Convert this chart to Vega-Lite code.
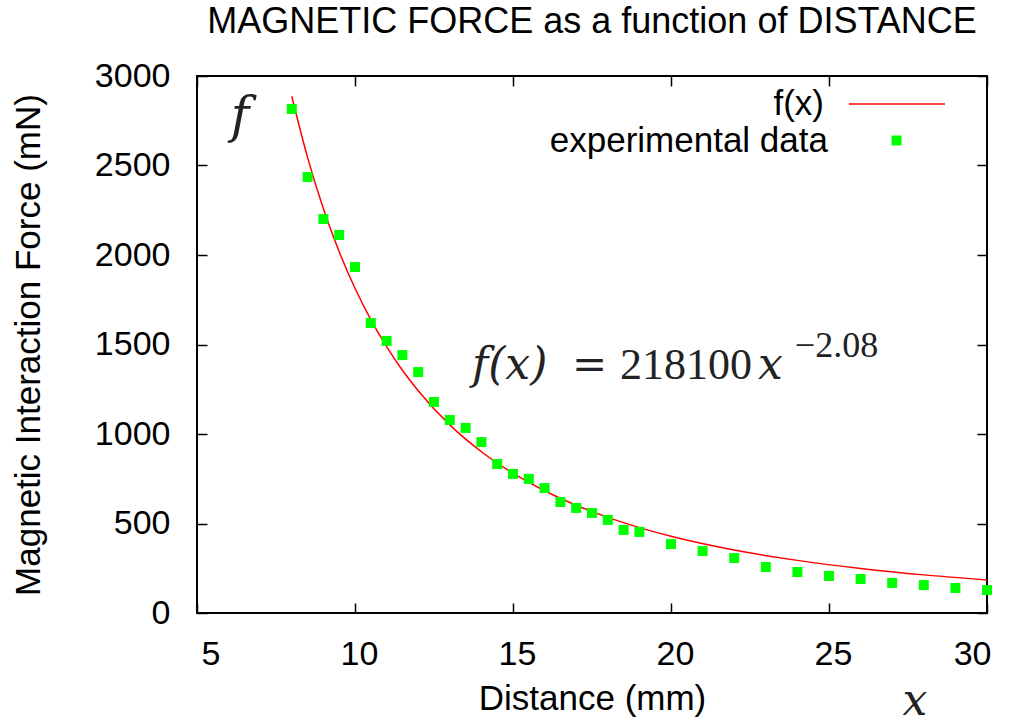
{
  "$schema": "https://vega.github.io/schema/vega-lite/v6.json",
  "width": 790,
  "height": 537,
  "autosize": {"type": "none"},
  "padding": {"left": 197, "top": 76, "right": 31, "bottom": 111},
  "background": "white",
  "config": {
    "view": {"stroke": "black", "strokeWidth": 2},
    "font": "Liberation Sans",
    "axis": {"grid": false, "domain": false, "tickColor": "black", "tickWidth": 1.5, "labelColor": "black", "titleColor": "black", "labelFont": "Liberation Sans", "titleFont": "Liberation Sans", "titleFontWeight": "normal"},
    "legend": {"labelFont": "Liberation Sans", "labelColor": "black", "labelFontSize": 35, "labelLimit": 500, "padding": 0}
  },
  "datasets": {
    "curve": [
      {"distance": 8, "force": 2886},
      {"distance": 8.5, "force": 2544},
      {"distance": 9, "force": 2259},
      {"distance": 9.5, "force": 2018},
      {"distance": 10, "force": 1814},
      {"distance": 10.5, "force": 1639},
      {"distance": 11, "force": 1488},
      {"distance": 11.5, "force": 1356},
      {"distance": 12, "force": 1242},
      {"distance": 13, "force": 1051},
      {"distance": 14, "force": 901},
      {"distance": 15, "force": 781},
      {"distance": 16, "force": 683},
      {"distance": 17, "force": 602},
      {"distance": 18, "force": 534},
      {"distance": 19, "force": 477},
      {"distance": 20, "force": 429},
      {"distance": 22, "force": 352},
      {"distance": 24, "force": 294},
      {"distance": 26, "force": 249},
      {"distance": 28, "force": 213},
      {"distance": 30, "force": 185}
    ],
    "measured": [
      {"distance": 8, "force": 2816},
      {"distance": 8.5, "force": 2436},
      {"distance": 9, "force": 2201},
      {"distance": 9.5, "force": 2112},
      {"distance": 10, "force": 1933},
      {"distance": 10.5, "force": 1620},
      {"distance": 11, "force": 1520},
      {"distance": 11.5, "force": 1441},
      {"distance": 12, "force": 1346},
      {"distance": 12.5, "force": 1179},
      {"distance": 13, "force": 1078},
      {"distance": 13.5, "force": 1034},
      {"distance": 14, "force": 955},
      {"distance": 14.5, "force": 832},
      {"distance": 15, "force": 777},
      {"distance": 15.5, "force": 749},
      {"distance": 16, "force": 698},
      {"distance": 16.5, "force": 620},
      {"distance": 17, "force": 587},
      {"distance": 17.5, "force": 559},
      {"distance": 18, "force": 520},
      {"distance": 18.5, "force": 464},
      {"distance": 19, "force": 453},
      {"distance": 20, "force": 385},
      {"distance": 21, "force": 346},
      {"distance": 22, "force": 307},
      {"distance": 23, "force": 257},
      {"distance": 24, "force": 229},
      {"distance": 25, "force": 207},
      {"distance": 26, "force": 190},
      {"distance": 27, "force": 168},
      {"distance": 28, "force": 156},
      {"distance": 29, "force": 140},
      {"distance": 30, "force": 128}
    ],
    "note": [{}]
  },
  "resolve": {"axis": {"x": "independent", "y": "independent"}},
  "layer": [
    {
      "data": {"name": "curve"},
      "mark": {"type": "line", "interpolate": "monotone", "strokeWidth": 1.5},
      "encoding": {
        "x": {"field": "distance", "type": "quantitative", "scale": {"domain": [5, 30], "nice": false, "zero": false},
              "axis": {"orient": "bottom", "values": [5, 10, 15, 20, 25, 30], "tickSize": -10, "labelPadding": 34, "labelOffset": 4, "labelFontSize": 34, "title": "Distance (mm)", "titleFontSize": 35, "titlePadding": 10}},
        "y": {"field": "force", "type": "quantitative", "scale": {"domain": [0, 3000], "nice": false, "zero": true},
              "axis": {"orient": "left", "values": [0, 500, 1000, 1500, 2000, 2500, 3000], "format": "d", "tickSize": -10, "labelPadding": 37, "labelFontSize": 34, "title": "Magnetic Interaction Force (mN)", "titleFontSize": 35, "titlePadding": 48}},
        "stroke": {"datum": "f(x)", "scale": {"domain": ["f(x)"], "range": ["#ff0000"]},
                   "legend": {"orient": "none", "legendX": 651, "legendY": -21, "title": null, "symbolType": "stroke", "symbolSize": 9216, "symbolStrokeWidth": 1.5, "labelAlign": "right", "labelOffset": -122}}
      }
    },
    {
      "data": {"name": "measured"},
      "mark": {"type": "square", "size": 100, "opacity": 1},
      "encoding": {
        "x": {"field": "distance", "type": "quantitative",
              "axis": {"orient": "top", "values": [5, 10, 15, 20, 25, 30], "tickSize": -10, "labels": false, "title": null}},
        "y": {"field": "force", "type": "quantitative",
              "axis": {"orient": "right", "values": [0, 500, 1000, 1500, 2000, 2500, 3000], "tickSize": -10, "labels": false, "title": null}},
        "fill": {"datum": "experimental data", "scale": {"domain": ["experimental data"], "range": ["#00ff00"]},
                 "legend": {"orient": "none", "legendX": 682, "legendY": 47, "title": null, "symbolType": "square", "symbolSize": 100, "symbolStrokeWidth": 0, "symbolOpacity": 1, "labelAlign": "right", "labelOffset": -86}}
      }
    },
    {
      "data": {"name": "note"},
      "mark": {"type": "text", "font": "Liberation Sans", "fontSize": 36, "align": "center", "baseline": "alphabetic", "color": "black"},
      "encoding": {"x": {"datum": 17.5, "type": "quantitative", "axis": null}, "y": {"datum": 3240, "type": "quantitative", "axis": null}, "text": {"value": "MAGNETIC FORCE as a function of DISTANCE"}}
    },
    {
      "data": {"name": "note"},
      "mark": {"type": "text", "font": "DejaVu Serif", "fontStyle": "italic", "fontSize": 50, "align": "center", "baseline": "alphabetic", "color": "#222222"},
      "encoding": {"x": {"datum": 6.36, "type": "quantitative", "axis": null}, "y": {"datum": 2687, "type": "quantitative", "axis": null}, "text": {"value": "f"}}
    },
    {
      "data": {"name": "note"},
      "mark": {"type": "text", "font": "DejaVu Serif", "fontStyle": "italic", "fontSize": 44, "align": "center", "baseline": "alphabetic", "color": "#222222"},
      "encoding": {"x": {"datum": 27.72, "type": "quantitative", "axis": null}, "y": {"datum": -570, "type": "quantitative", "axis": null}, "text": {"value": "x"}}
    },
    {
      "data": {"name": "note"},
      "mark": {"type": "text", "font": "DejaVu Serif", "fontStyle": "italic", "fontSize": 44, "align": "left", "baseline": "alphabetic", "color": "#222222"},
      "encoding": {"x": {"datum": 13.7, "type": "quantitative", "axis": null}, "y": {"datum": 1307, "type": "quantitative", "axis": null}, "text": {"value": "f(x)"}}
    },
    {
      "data": {"name": "note"},
      "mark": {"type": "text", "font": "DejaVu Serif", "fontSize": 42, "align": "left", "baseline": "alphabetic", "color": "#222222"},
      "encoding": {"x": {"datum": 16.87, "type": "quantitative", "axis": null}, "y": {"datum": 1307, "type": "quantitative", "axis": null}, "text": {"value": "="}}
    },
    {
      "data": {"name": "note"},
      "mark": {"type": "text", "font": "Liberation Serif", "fontSize": 44, "align": "left", "baseline": "alphabetic", "color": "#222222"},
      "encoding": {"x": {"datum": 18.39, "type": "quantitative", "axis": null}, "y": {"datum": 1307, "type": "quantitative", "axis": null}, "text": {"value": "218100"}}
    },
    {
      "data": {"name": "note"},
      "mark": {"type": "text", "font": "DejaVu Serif", "fontStyle": "italic", "fontSize": 44, "align": "left", "baseline": "alphabetic", "color": "#222222"},
      "encoding": {"x": {"datum": 22.75, "type": "quantitative", "axis": null}, "y": {"datum": 1307, "type": "quantitative", "axis": null}, "text": {"value": "x"}}
    },
    {
      "data": {"name": "note"},
      "mark": {"type": "text", "font": "Liberation Serif", "fontSize": 36, "align": "left", "baseline": "alphabetic", "color": "#222222"},
      "encoding": {"x": {"datum": 23.92, "type": "quantitative", "axis": null}, "y": {"datum": 1430, "type": "quantitative", "axis": null}, "text": {"value": "−2.08"}}
    }
  ]
}
